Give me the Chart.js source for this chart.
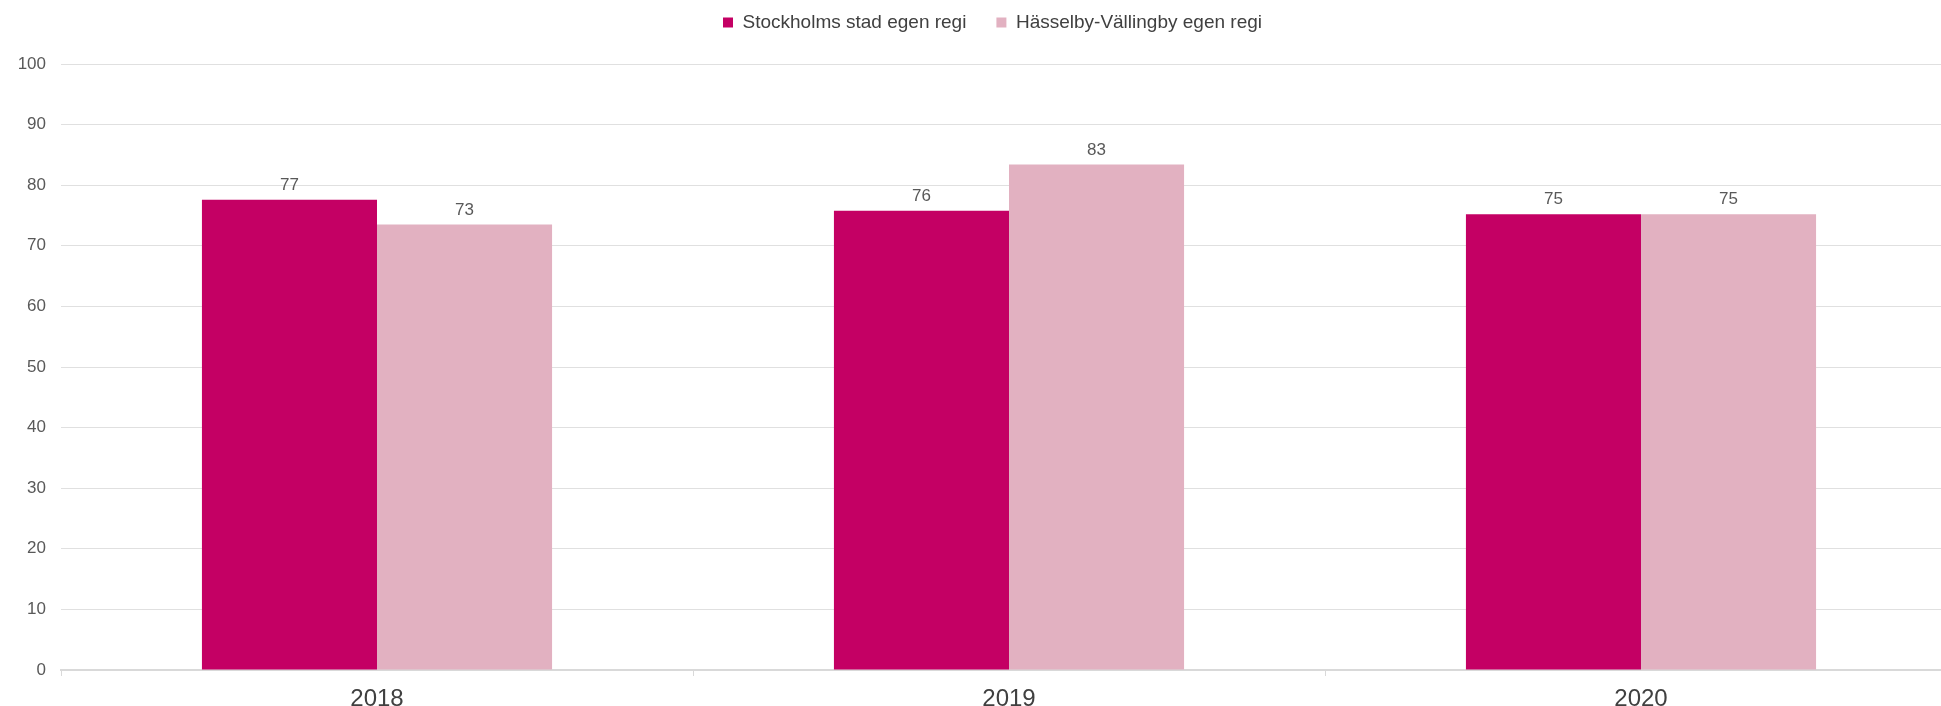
<!DOCTYPE html>
<html>
<head>
<meta charset="utf-8">
<script src="https://cdn.jsdelivr.net/npm/chart.js@4/dist/chart.umd.min.js"></script>
<style>
  html, body { margin:0; padding:0; background:#fff; overflow:hidden; }
  #wrap { position:absolute; left:0; top:0; width:1957px; height:706px; }
</style>
</head>
<body>
<div id="wrap"><canvas id="chart" width="1957" height="706"></canvas></div>
<script>
// data
const years = ['2018', '2019', '2020'];
const seriesNames = ['Stockholms stad egen regi', 'Hässelby-Vällingby egen regi'];
const stockholm = [77.6, 75.8, 75.2];
const hasselby  = [73.5, 83.4, 75.2];
const stockholmLabels = ['77', '76', '75'];
const hasselbyLabels  = ['73', '83', '75'];
const yTicks = [0, 10, 20, 30, 40, 50, 60, 70, 80, 90, 100];

const FONT = 'Liberation Sans, Arial, sans-serif';

// value labels above each bar
const barLabels = {
  id: 'barLabels',
  afterDatasetsDraw(chart) {
    const ctx = chart.ctx;
    ctx.save();
    ctx.font = '17px ' + FONT;
    ctx.fillStyle = '#595959';
    ctx.textAlign = 'center';
    ctx.textBaseline = 'bottom';
    chart.data.datasets.forEach((ds, di) => {
      const meta = chart.getDatasetMeta(di);
      meta.data.forEach((bar, i) => {
        ctx.fillText(ds.valueLabels[i], bar.x, bar.y - 6);
      });
    });
    ctx.restore();
  }
};

// fixed legend height so the plot starts where the reference does,
// and nudge the legend a bit to the right like in the original
const legendTweak = {
  id: 'legendTweak',
  beforeInit(chart) {
    const fit = chart.legend.fit;
    chart.legend.fit = function () {
      fit.call(this);
      this.height = 81;
    };
  },
  afterLayout(chart) {
    chart.legend.left += 14;
    chart.legend.right += 14;
  }
};

new Chart(document.getElementById('chart'), {
  type: 'bar',
  data: {
    labels: years,
    datasets: [
      { label: seriesNames[0], data: stockholm, valueLabels: stockholmLabels,
        backgroundColor: '#c40064', categoryPercentage: 0.554, barPercentage: 1.0 },
      { label: seriesNames[1], data: hasselby, valueLabels: hasselbyLabels,
        backgroundColor: '#e2b1c1', categoryPercentage: 0.554, barPercentage: 1.0 }
    ]
  },
  options: {
    responsive: false,
    animation: false,
    layout: { padding: { top: -17, left: 0, right: 0, bottom: 0 } },
    plugins: {
      legend: {
        position: 'top',
        labels: {
          color: '#404040',
          font: { family: FONT, size: 19 },
          boxWidth: 10, boxHeight: 10,
          padding: 30
        }
      },
      tooltip: { enabled: false }
    },
    scales: {
      x: {
        offset: true,
        afterFit: s => { s.height = 36; },
        grid: { offset: true, drawOnChartArea: false, drawTicks: true, tickLength: 6, color: '#d9d9d9' },
        border: { color: '#d9d9d9', width: 2 },
        ticks: { color: '#404040', font: { family: FONT, size: 24 }, padding: 9 }
      },
      y: {
        min: 0, max: 100,
        afterBuildTicks: s => { s.ticks = yTicks.map(v => ({ value: v })); },
        afterFit: s => { s.width = 61; },
        grid: { color: '#e0e0e0', drawTicks: false },
        border: { display: false },
        ticks: { color: '#595959', font: { family: FONT, size: 17 }, padding: 15 }
      }
    }
  },
  plugins: [barLabels, legendTweak]
});
</script>
</body>
</html>
